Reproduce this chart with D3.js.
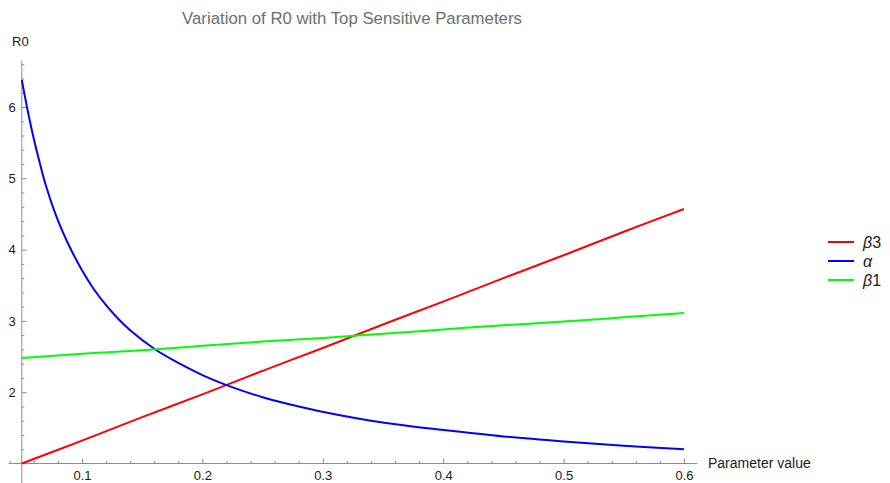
<!DOCTYPE html>
<html>
<head>
<meta charset="utf-8">
<script src="https://cdn.jsdelivr.net/npm/d3@7"></script>
<style>
  html, body { margin: 0; padding: 0; background: #fff; }
  svg { display: block; }
  text { font-family: "Liberation Sans", Arial, sans-serif; }
</style>
</head>
<body>
<svg id="chart" width="890" height="483"></svg>
<script>
// ---- Data ----
const xBeta3 = [0.05, 0.10, 0.15, 0.20, 0.25, 0.30, 0.35, 0.40, 0.45, 0.50, 0.55, 0.60];
const yBeta3 = [1.00, 1.32, 1.65, 1.97, 2.30, 2.62, 2.95, 3.27, 3.60, 3.92, 4.25, 4.57];

const xBeta1 = [0.05, 0.10, 0.15, 0.20, 0.25, 0.30, 0.35, 0.40, 0.45, 0.50, 0.55, 0.60];
const yBeta1 = [2.48, 2.54, 2.59, 2.65, 2.71, 2.76, 2.82, 2.88, 2.94, 2.99, 3.05, 3.11];

const xAlpha = [0.05, 0.055, 0.06, 0.065, 0.07, 0.08, 0.09, 0.10, 0.11, 0.12, 0.13, 0.14, 0.16, 0.18, 0.20, 0.22, 0.25, 0.28, 0.31, 0.34, 0.37, 0.40, 0.45, 0.50, 0.55, 0.60];
const yAlpha = [6.38, 5.94, 5.55, 5.21, 4.90, 4.41, 4.03, 3.71, 3.44, 3.22, 3.03, 2.87, 2.61, 2.41, 2.24, 2.10, 1.93, 1.80, 1.69, 1.60, 1.53, 1.47, 1.38, 1.31, 1.25, 1.20];

const seriesNames = ["β3", "α", "β1"];
const seriesColors = ["#ff0000", "#0000ff", "#00ff00"];

const xTickValues = [0.1, 0.2, 0.3, 0.4, 0.5, 0.6];
const xTickLabels = ["0.1", "0.2", "0.3", "0.4", "0.5", "0.6"];
const yTickValues = [2, 3, 4, 5, 6];
const yTickLabels = ["2", "3", "4", "5", "6"];

const titleText = "Variation of R0 with Top Sensitive Parameters";
const xAxisLabel = "Parameter value";
const yAxisLabel = "R0";

// ---- Layout ----
const svg = d3.select("#chart");
const x = d3.scaleLinear().domain([0.05, 0.6]).range([21.8, 684]);
const y = d3.scaleLinear().domain([1, 6]).range([463.5, 107]);

const axisColor = "#8c8c8c";
const labelColor = "#1a1a1a";

// minor ticks
const xMinor = d3.range(4, 61, 2).map(v => v / 100).filter(v => Math.abs(v * 10 - Math.round(v * 10)) > 1e-6);
const yMinor = d3.range(6, 34, 1).map(v => v / 5).filter(v => Math.abs(v - Math.round(v)) > 1e-6);

// Title
svg.append("text")
  .attr("x", 352).attr("y", 24)
  .attr("text-anchor", "middle")
  .attr("font-size", 16.8)
  .attr("fill", "#6e6e6e")
  .text(titleText);

// X axis
const gx = svg.append("g").attr("transform", `translate(0,${y(1)})`);
gx.append("line")
  .attr("x1", x(0.039)).attr("x2", x(0.611))
  .attr("stroke", axisColor).attr("stroke-width", 1);
gx.append("g").call(d3.axisBottom(x).tickValues(xMinor).tickSizeInner(-2.5).tickSizeOuter(0).tickFormat(""))
  .call(g => g.select(".domain").remove())
  .call(g => g.selectAll("line").attr("stroke", axisColor));
gx.append("g").call(d3.axisBottom(x).tickValues(xTickValues).tickSizeInner(-5).tickSizeOuter(0)
    .tickPadding(7).tickFormat((d, i) => xTickLabels[i]))
  .call(g => g.select(".domain").remove())
  .call(g => g.selectAll("line").attr("stroke", axisColor))
  .call(g => g.selectAll("text").attr("font-size", 13).attr("fill", labelColor)
    .attr("font-family", "Liberation Sans, Arial, sans-serif"));

// Y axis
const gy = svg.append("g").attr("transform", `translate(${x(0.05)},0)`);
gy.append("line")
  .attr("y1", y(6.65)).attr("y2", y(0.72))
  .attr("stroke", axisColor).attr("stroke-width", 1);
gy.append("g").call(d3.axisLeft(y).tickValues(yMinor).tickSizeInner(-2.5).tickSizeOuter(0).tickFormat(""))
  .call(g => g.select(".domain").remove())
  .call(g => g.selectAll("line").attr("stroke", axisColor));
gy.append("g").call(d3.axisLeft(y).tickValues(yTickValues).tickSizeInner(-5).tickSizeOuter(0)
    .tickPadding(6).tickFormat((d, i) => yTickLabels[i]))
  .call(g => g.select(".domain").remove())
  .call(g => g.selectAll("line").attr("stroke", axisColor))
  .call(g => g.selectAll("text").attr("font-size", 13).attr("fill", labelColor)
    .attr("font-family", "Liberation Sans, Arial, sans-serif"));

// Axis labels
svg.append("text")
  .attr("x", 708).attr("y", 468)
  .attr("font-size", 14).attr("fill", labelColor)
  .text(xAxisLabel);
svg.append("text")
  .attr("x", 12).attr("y", 46)
  .attr("font-size", 13).attr("fill", labelColor)
  .text(yAxisLabel);

// Lines
const line = d3.line().x(d => x(d[0])).y(d => y(d[1])).curve(d3.curveCatmullRom.alpha(0.5));
const series = [
  d3.zip(xBeta3, yBeta3),
  d3.zip(xAlpha, yAlpha),
  d3.zip(xBeta1, yBeta1)
];
series.forEach((pts, i) => {
  svg.append("path")
    .datum(pts)
    .attr("d", line)
    .attr("fill", "none")
    .attr("stroke", seriesColors[i])
    .attr("stroke-width", 2)
    .attr("stroke-linejoin", "round")
    .attr("stroke-linecap", "butt");
});

// Legend
const legendY = [242, 261, 280];
seriesNames.forEach((name, i) => {
  const g = svg.append("g").attr("transform", `translate(0,${legendY[i]})`);
  g.append("line").attr("x1", 828).attr("x2", 854).attr("y1", 0).attr("y2", 0)
    .attr("stroke", seriesColors[i]).attr("stroke-width", 2);
  const t = g.append("text").attr("x", 863).attr("y", 5.8).attr("font-size", 16).attr("fill", labelColor);
  t.append("tspan").attr("font-style", "italic").text(name[0]);
  if (name.length > 1) t.append("tspan").text(name.slice(1));
});
</script>
</body>
</html>
